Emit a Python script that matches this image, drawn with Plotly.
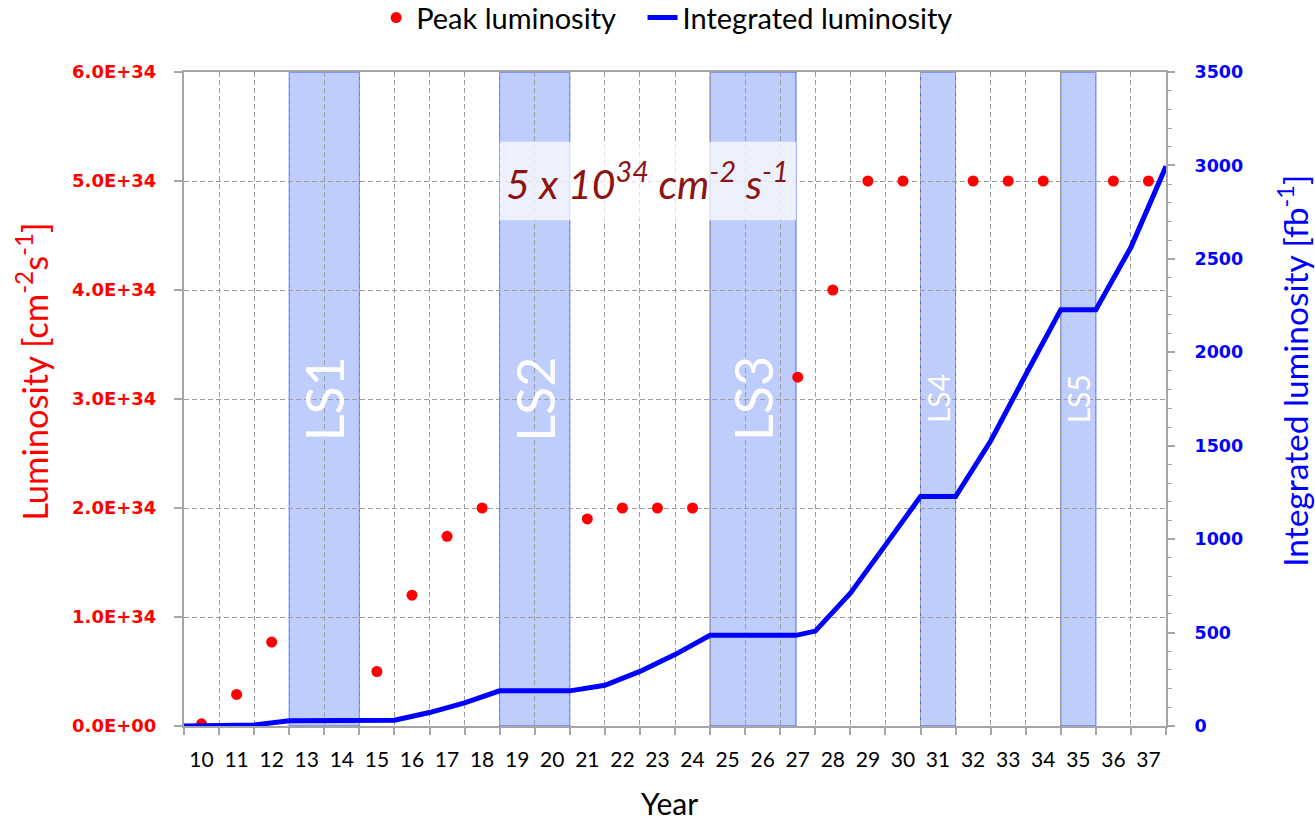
import plotly.graph_objects as go

# Calendar years (two-digit, 20xx) shown on the x axis
years = list(range(10, 38))

# Peak instantaneous luminosity per year [cm^-2 s^-1]; None = long shutdown
peak_lumi = [0.02e34, 0.29e34, 0.77e34, None, None, 0.5e34, 1.2e34, 1.74e34,
             2.0e34, None, None, 1.9e34, 2.0e34, 2.0e34, 2.0e34, None, None,
             3.2e34, 4.0e34, 5.0e34, 5.0e34, None, 5.0e34, 5.0e34, 5.0e34,
             None, 5.0e34, 5.0e34]

# Cumulative integrated luminosity [fb^-1] at year boundaries
int_x = [10, 11, 12, 13, 14, 15, 16, 17, 18, 19, 20, 21, 22, 23, 24, 25, 26,
         27, 27.45, 28, 29, 30, 31, 32, 33, 34, 35, 36, 37, 38]
int_lumi = [0, 1, 6, 28, 28, 28, 31, 72, 124, 188, 188, 188, 218, 292, 382,
            485, 485, 485, 485, 508, 711, 968, 1228, 1228, 1525, 1880, 2228,
            2228, 2562, 2995]

# Long shutdown periods
ls_names = ["LS1", "LS2", "LS3", "LS4", "LS5"]
ls_start = [13, 19, 25, 31, 35]
ls_end = [15, 21, 27.45, 32, 36]
ls_label_size = [52, 52, 52, 30, 30]

# Left axis ticks
lumi_ticks = [0, 1e34, 2e34, 3e34, 4e34, 5e34, 6e34]

GRID = "#9E9E9E"
AXIS = "#A6A6A6"
CAL = "Lato, Calibri, sans-serif"
VER = "DejaVu Sans, Verdana, sans-serif"
NB = "\u00a0"

fig = go.Figure()

fig.add_trace(go.Scatter(
    x=[y + 0.5 for y in years], y=peak_lumi, mode="markers",
    name="Peak luminosity" + NB * 3,
    marker=dict(color="#FF0000", size=11),
    xaxis="x", yaxis="y",
))
fig.add_trace(go.Scatter(
    x=int_x, y=int_lumi, mode="lines",
    name="Integrated luminosity",
    line=dict(color="#0000FF", width=5),
    xaxis="x", yaxis="y2",
))

shapes = []
annotations = []
for name, x0, x1, fs in zip(ls_names, ls_start, ls_end, ls_label_size):
    shapes.append(dict(
        type="rect", xref="x", yref="paper", x0=x0, x1=x1, y0=0, y1=1,
        fillcolor="rgba(125,155,250,0.5)",
        line=dict(color="rgba(40,70,255,0.8)", width=1),
        layer="between",
    ))
    annotations.append(dict(
        x=(x0 + x1) / 2, y=0.5, xref="x", yref="paper", text=name,
        textangle=-90, showarrow=False, xanchor="center", yanchor="middle",
        font=dict(family=CAL, size=fs, color="white"),
    ))

# Translucent panel behind the target-luminosity label
shapes.append(dict(
    type="rect", xref="x", yref="y", x0=ls_start[1], x1=ls_end[2],
    y0=4.64e34, y1=5.36e34, fillcolor="rgba(255,255,255,0.72)",
    line=dict(width=0), layer="above",
))
annotations.append(dict(
    x=(ls_start[1] + ls_end[2]) / 2, y=5.0e34, xref="x", yref="y",
    text="5 x 10<sup>34</sup> cm<sup>-2</sup> s<sup>-1</sup>",
    showarrow=False, xanchor="center", yanchor="middle",
    font=dict(family=CAL, size=41, color="#8E1414", style="italic"),
))

# Axis titles
annotations.append(dict(
    x=-0.1548, y=0.543, xref="paper", yref="paper",
    text="Luminosity [cm<sup>-2</sup>s<sup>-1</sup>]", textangle=-90,
    showarrow=False, xanchor="center", yanchor="middle",
    font=dict(family=CAL, size=34.5, color="#FF0000"),
))
annotations.append(dict(
    x=1.1293, y=0.543, xref="paper", yref="paper",
    text="Integrated luminosity [fb<sup>-1</sup>]", textangle=-90,
    showarrow=False, xanchor="center", yanchor="middle",
    font=dict(family=CAL, size=33.5, color="#0000FF"),
))
annotations.append(dict(
    x=0.4939, y=-0.1177, xref="paper", yref="paper", text="Year",
    showarrow=False, xanchor="center", yanchor="middle",
    font=dict(family=CAL, size=30, color="black"),
))

fig.update_layout(
    width=1315, height=822,
    margin=dict(l=184, r=149, t=72, b=96, autoexpand=False),
    paper_bgcolor="white", plot_bgcolor="white",
    showlegend=True,
    legend=dict(orientation="h", x=0.492, xanchor="center", y=1.083,
                yanchor="middle", font=dict(family=CAL, size=29, color="black"),
                bgcolor="rgba(0,0,0,0)"),
    xaxis=dict(
        range=[10, 38], tickmode="array",
        tickvals=[y + 0.5 for y in years], ticktext=[str(y) for y in years],
        ticks="", showgrid=False, zeroline=False,
        showline=True, linecolor=AXIS, linewidth=2, mirror=True,
        tickfont=dict(family=CAL, size=21, color="black"),
        ticklabelstandoff=14,
        minor=dict(tickmode="array", tickvals=list(range(10, 39)),
                   ticks="outside", ticklen=7, tickwidth=1.5,
                   tickcolor=AXIS, showgrid=True, gridcolor=GRID,
                   gridwidth=1, griddash="5px,3px"),
    ),
    yaxis=dict(
        range=[0, 6e34], tickmode="array", tickvals=lumi_ticks,
        ticktext=[f"{v:.1E}" for v in lumi_ticks],
        ticks="outside", ticklen=8, tickwidth=1.5, tickcolor=AXIS,
        showgrid=True, gridcolor=GRID, gridwidth=1, griddash="5px,3px",
        zeroline=False, showline=True, linecolor=AXIS, linewidth=2,
        tickfont=dict(family=VER, size=18, color="#FF0000", weight="bold"),
        ticklabelstandoff=14,
    ),
    yaxis2=dict(
        range=[0, 3500], overlaying="y", side="right", anchor="x",
        tickmode="linear", tick0=0, dtick=500,
        ticks="outside", ticklen=7, tickwidth=1.5, tickcolor=AXIS,
        showgrid=False, zeroline=False, showline=True, linecolor=AXIS,
        linewidth=2,
        tickfont=dict(family=VER, size=17.5, color="#0000FF", weight="bold"),
        ticklabelstandoff=16,
        minor=dict(dtick=100, ticks="outside", ticklen=4, tickwidth=1,
                   tickcolor=AXIS, showgrid=False),
    ),
    shapes=shapes,
    annotations=annotations,
)

fig.write_html("out.html")
